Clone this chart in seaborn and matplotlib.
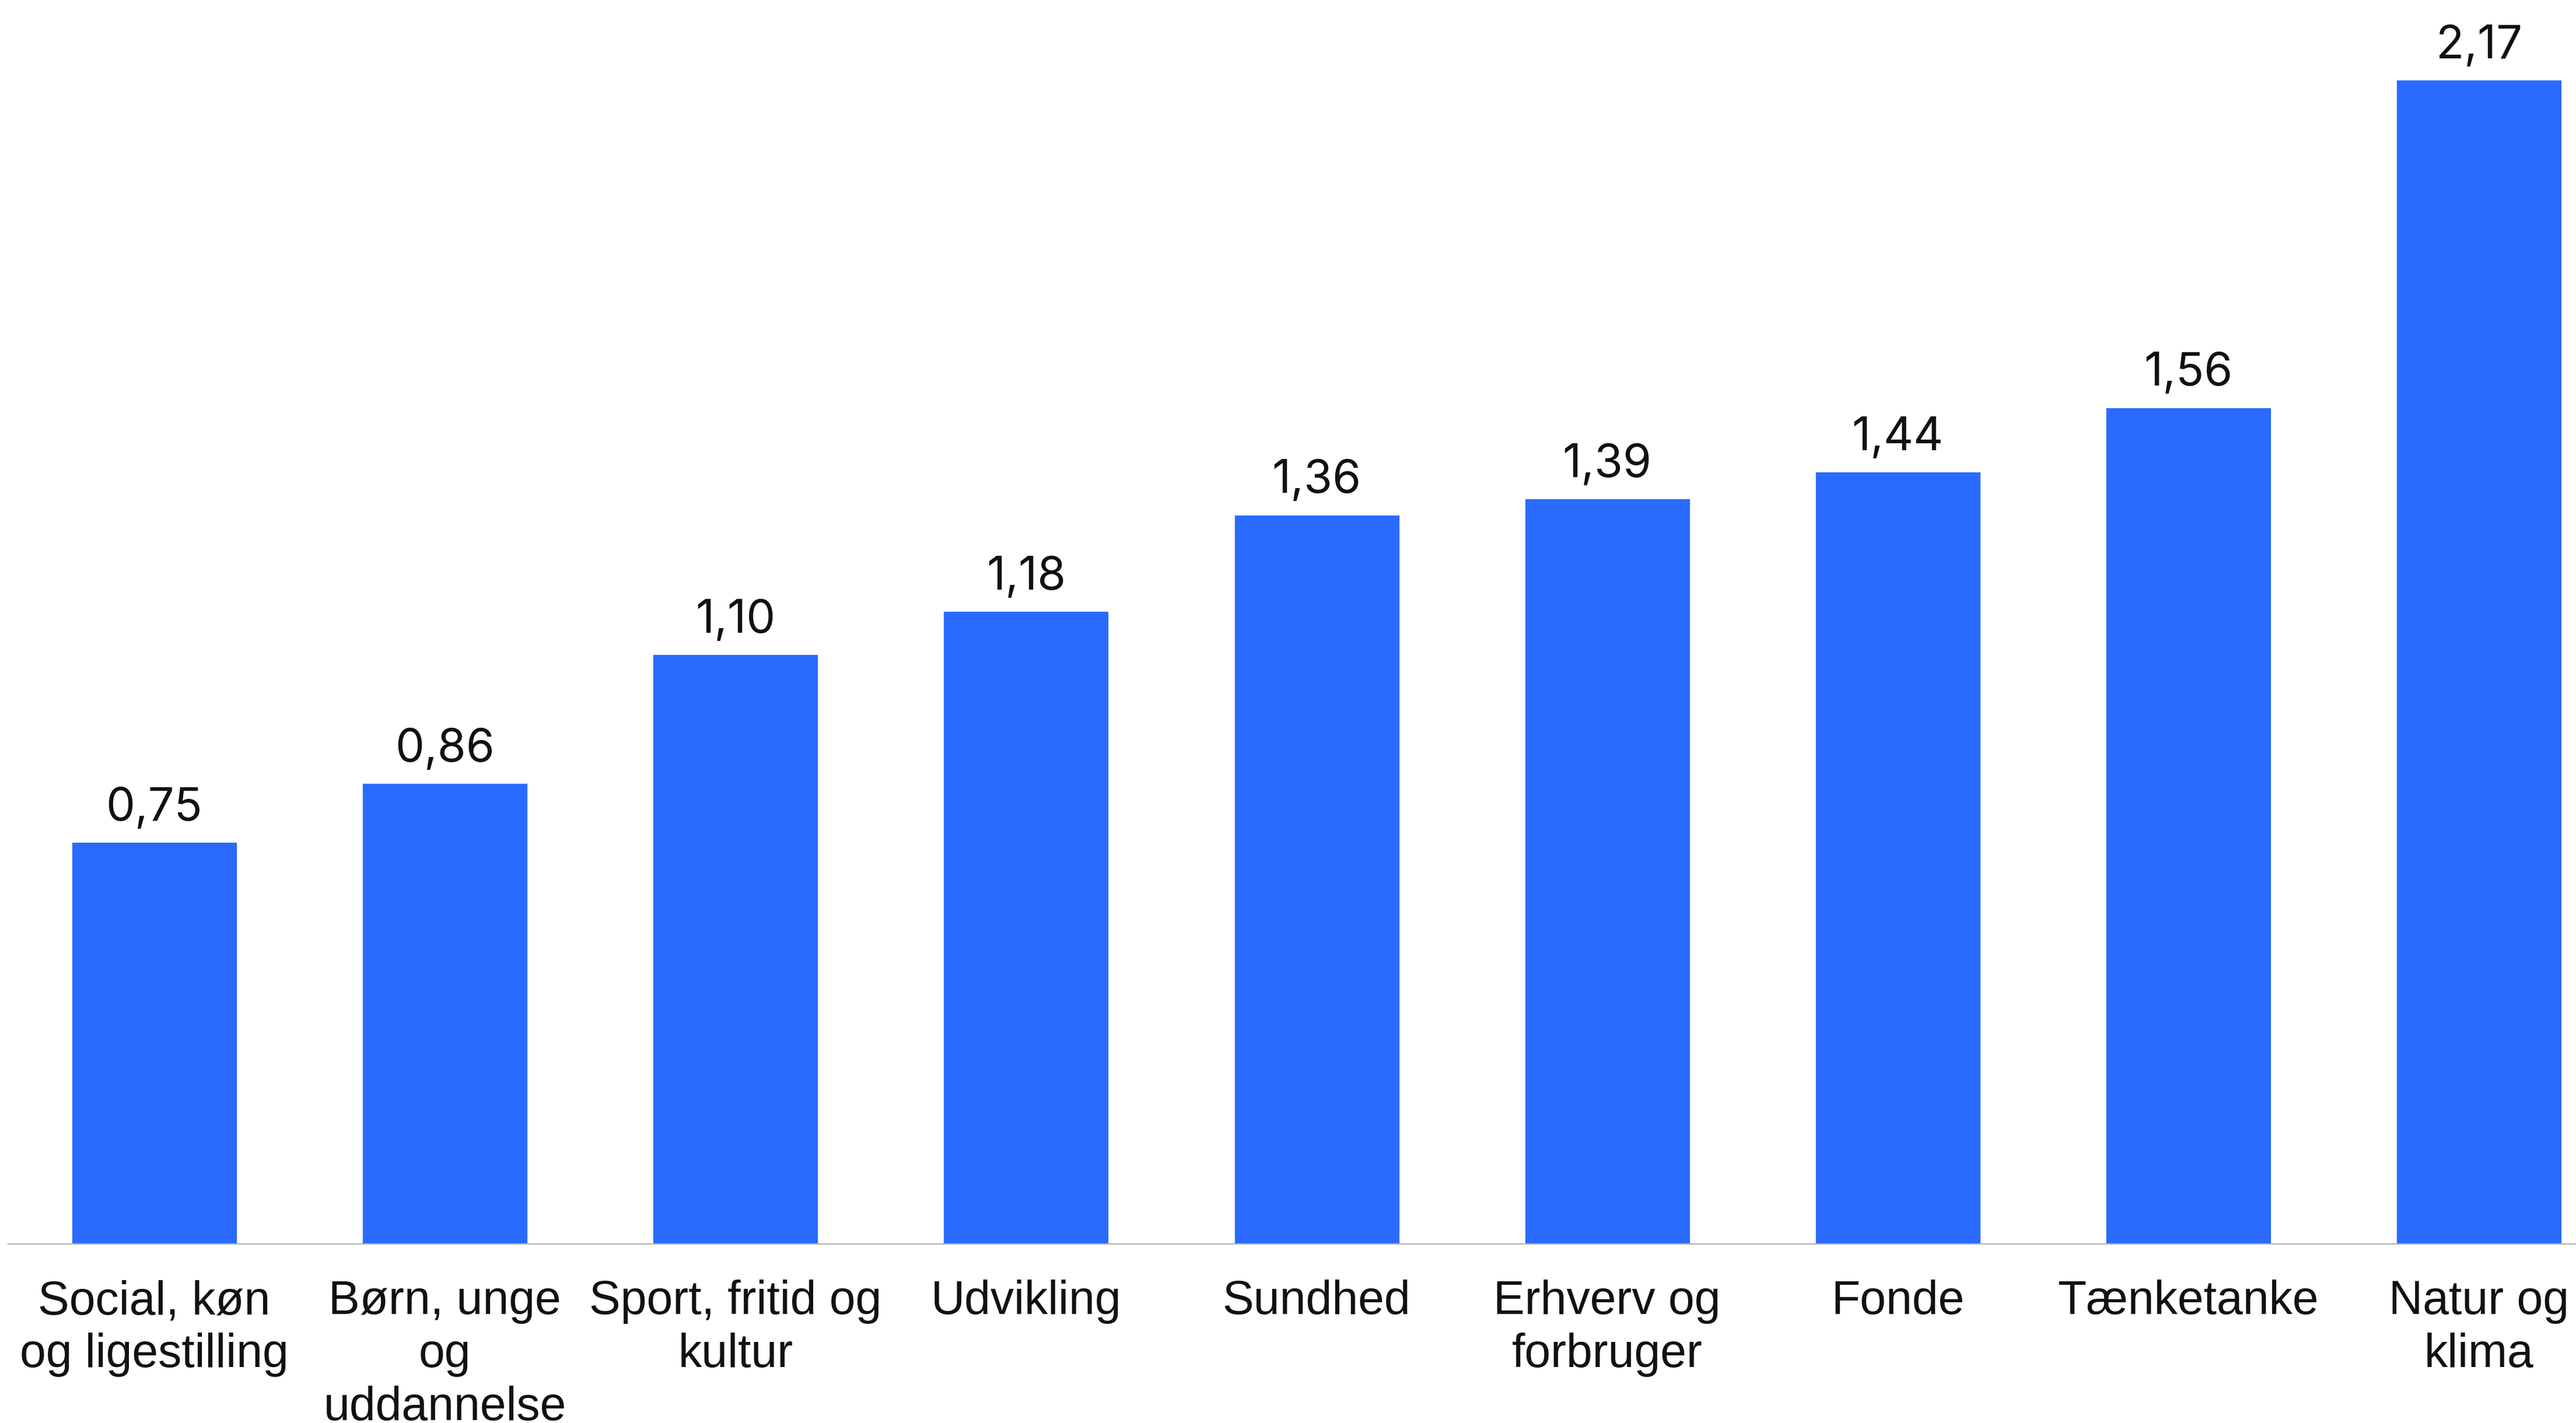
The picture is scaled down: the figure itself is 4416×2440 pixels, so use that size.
import matplotlib
matplotlib.use("Agg")
import matplotlib.pyplot as plt
import seaborn as sns
import pandas as pd

categories = [
    "Social, køn\nog ligestilling",
    "Børn, unge\nog\nuddannelse",
    "Sport, fritid og\nkultur",
    "Udvikling",
    "Sundhed",
    "Erhverv og\nforbruger",
    "Fonde",
    "Tænketanke",
    "Natur og\nklima",
]
values = [0.75, 0.86, 1.10, 1.18, 1.36, 1.39, 1.44, 1.56, 2.17]
value_labels = ["0,75", "0,86", "1,10", "1,18", "1,36", "1,39", "1,44", "1,56", "2,17"]

BAR_COLOR = "#2A6AFF"
TEXT_COLOR = "#111111"

sns.set_theme(style="white")
plt.rcParams["font.family"] = ["Liberation Sans", "DejaVu Sans"]

df = pd.DataFrame({"kategori": categories, "værdi": values})

fig = plt.figure(figsize=(22.08, 12.2), dpi=200)
ax = fig.add_axes([14 / 4416, (2440 - 2133) / 2440, (4416 - 14) / 4416, 2133 / 2440])

sns.barplot(data=df, x="kategori", y="værdi", order=categories,
            color=BAR_COLOR, saturation=1, width=0.572, ax=ax)

ax.set_xlim(-0.503, 8.334)
ax.set_ylim(0, 2.318)

for i, (v, lab) in enumerate(zip(values, value_labels)):
    ax.annotate(lab, xy=(i, v), xytext=(0, 13), textcoords="offset points",
                ha="center", va="baseline", fontsize=28.5, color=TEXT_COLOR,
                family=["Inter", "DejaVu Sans"])

ax.set_xlabel("")
ax.set_ylabel("")
ax.set_yticks([])
ax.tick_params(axis="x", length=0, pad=22, labelsize=29, labelcolor=TEXT_COLOR)
for t in ax.get_xticklabels():
    t.set_linespacing(1.25)

for side in ["top", "right", "left"]:
    ax.spines[side].set_visible(False)
ax.spines["bottom"].set_color("#B3B3B3")
ax.spines["bottom"].set_linewidth(0.8)

fig.savefig("out.png", dpi=200, facecolor="white")
